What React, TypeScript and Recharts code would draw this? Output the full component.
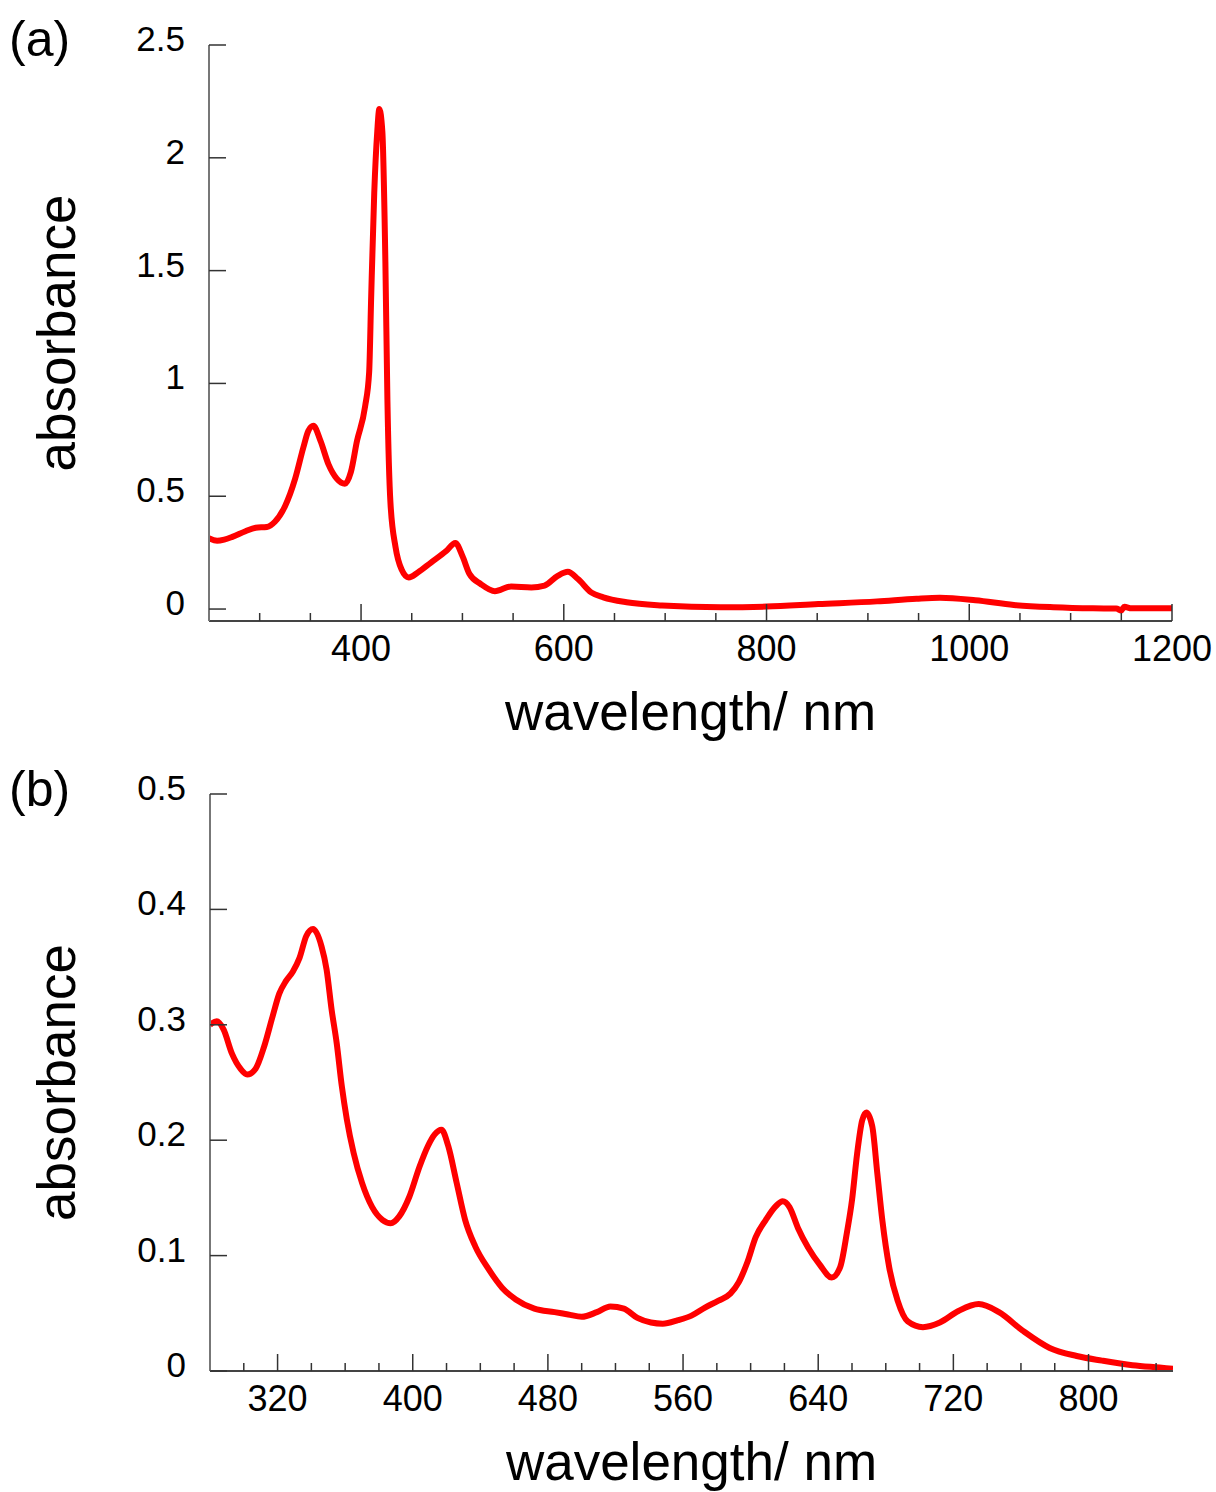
import { LineChart, Line, XAxis, YAxis, Label } from 'recharts';

// panel (a): full range spectrum
const wavelengthA = [
  250, 258, 265, 273, 286, 296, 307, 315, 325, 335, 343, 348, 353, 360, 368, 376, 384, 390, 396, 404,
  408, 410, 413, 416, 418, 421, 424, 426, 429, 434, 440, 447, 456, 469, 484, 493, 500, 507, 518, 532,
  548, 568, 581, 594, 604, 614, 627, 639, 662, 697, 755, 800, 851, 909, 948, 971, 1006, 1044, 1083, 1122,
  1145, 1150, 1153, 1160, 1200,
];
const absorbanceA = [
  0.314, 0.303, 0.308, 0.32, 0.345, 0.36, 0.364, 0.387, 0.456, 0.578, 0.715, 0.79, 0.812, 0.745, 0.64, 0.578, 0.555, 0.608, 0.745, 0.898,
  1.05, 1.386, 1.843, 2.117, 2.216, 2.117, 1.538, 0.928, 0.471, 0.275, 0.175, 0.14, 0.162, 0.206, 0.257, 0.293, 0.235, 0.155, 0.111, 0.079,
  0.1, 0.096, 0.104, 0.147, 0.165, 0.133, 0.074, 0.052, 0.03, 0.016, 0.008, 0.011, 0.022, 0.034, 0.046, 0.05, 0.039, 0.018, 0.008, 0.003,
  0.002, -0.006, 0.01, 0.003, 0.003,
];

// panel (b): 280-850 nm
const wavelengthB = [
  280, 284, 288, 293, 298, 302, 307, 312, 317, 321, 325, 329, 333, 337, 341, 346, 349, 352, 355, 358,
  361, 365, 370, 376, 382, 387, 392, 398, 404, 409, 413, 417, 421, 426, 431, 437, 445, 453, 461, 472,
  484, 492, 500, 509, 517, 525, 533, 541, 548, 557, 565, 573, 581, 588, 593, 598, 603, 609, 615, 619,
  623, 628, 634, 641, 648, 653, 657, 660, 663, 666, 668.5, 672, 675, 678, 682, 687, 693, 702, 712, 723,
  735, 747, 761, 777, 793, 808, 826, 842, 850,
];
const absorbanceB = [
  0.3, 0.303, 0.296, 0.275, 0.262, 0.257, 0.262, 0.281, 0.307, 0.327, 0.338, 0.346, 0.358, 0.377, 0.383, 0.368, 0.348, 0.313, 0.284, 0.247,
  0.218, 0.189, 0.163, 0.142, 0.131, 0.128, 0.134, 0.151, 0.177, 0.195, 0.205, 0.209, 0.195, 0.163, 0.131, 0.108, 0.088, 0.072, 0.062, 0.054,
  0.051, 0.049, 0.047, 0.051, 0.056, 0.054, 0.046, 0.042, 0.041, 0.044, 0.048, 0.055, 0.061, 0.067, 0.077, 0.094, 0.116, 0.131, 0.143, 0.147,
  0.142, 0.124, 0.107, 0.092, 0.081, 0.09, 0.12, 0.148, 0.188, 0.217, 0.224, 0.212, 0.171, 0.13, 0.09, 0.061, 0.043, 0.038, 0.042, 0.052,
  0.058, 0.051, 0.035, 0.02, 0.013, 0.009, 0.005, 0.003, 0.002,
];

const xTicksA = [300, 350, 400, 450, 500, 550, 600, 650, 700, 750, 800, 850, 900, 950, 1000, 1050, 1100, 1150, 1200];
const xMajorA = [400, 600, 800, 1000, 1200];
const yTicksA = [0, 0.5, 1, 1.5, 2, 2.5];

const xTicksB = [300, 320, 340, 360, 380, 400, 420, 440, 460, 480, 500, 520, 540, 560, 580, 600, 620, 640, 660, 680, 700, 720, 740, 760, 780, 800, 820, 840];
const xMajorB = [320, 400, 480, 560, 640, 720, 800];
const yTicksB = [0, 0.1, 0.2, 0.3, 0.4, 0.5];

const FONT = '"Liberation Sans", Arial, Helvetica, sans-serif';
const Y_AXIS_W = 60;
const X_AXIS_H = 30;

const zip = (xs: number[], ys: number[]) => xs.map((nm, i) => ({ nm, abs: ys[i] }));

const makeXTick = (majors: number[], axisY: number) => (props: any) => {
  const { x, payload } = props;
  const major = majors.includes(payload.value);
  return (
    <g>
      <line x1={x} x2={x} y1={axisY} y2={axisY - (major ? 17 : 8)} stroke="#333" strokeWidth={1.5} />
      {major && (
        <text x={x} y={axisY + 40} textAnchor="middle" fontSize={36} fontFamily={FONT} fill="#000">
          {payload.value}
        </text>
      )}
    </g>
  );
};

const makeYTick = (axisX: number) => (props: any) => {
  const { y, payload } = props;
  return (
    <g>
      <line x1={axisX} x2={axisX + 17} y1={y} y2={y} stroke="#333" strokeWidth={1.5} />
      <text x={axisX - 24} y={y + 6} textAnchor="end" fontSize={35} fontFamily={FONT} fill="#000">
        {payload.value}
      </text>
    </g>
  );
};

type PanelProps = {
  tag: string;
  data: { nm: number; abs: number }[];
  xDomain: [number, number];
  xTicks: number[];
  xMajor: number[];
  yDomain: [number, number];
  yTicks: number[];
  height: number;
  plot: { top: number; right: number; bottom: number; left: number };
};

function Panel({ tag, data, xDomain, xTicks, xMajor, yDomain, yTicks, height, plot }: PanelProps) {
  const midY = (plot.top + plot.bottom) / 2;
  const midX = (plot.left + plot.right) / 2;
  const margin = {
    top: plot.top,
    right: 1216 - plot.right,
    bottom: height - plot.bottom - X_AXIS_H,
    left: plot.left - Y_AXIS_W,
  };
  return (
    <LineChart width={1216} height={height} data={data} margin={margin}>
      <XAxis
        dataKey="nm"
        type="number"
        domain={xDomain}
        ticks={xTicks}
        interval={0}
        allowDataOverflow
        height={X_AXIS_H}
        tickLine={false}
        tick={makeXTick(xMajor, plot.bottom)}
        axisLine={{ stroke: '#444', strokeWidth: 2 }}
      >
        <Label
          content={() => (
            <text x={midX} y={plot.bottom + 109} textAnchor="middle" fontSize={53} fontFamily={FONT} fill="#000">
              wavelength/ nm
            </text>
          )}
        />
      </XAxis>
      <YAxis
        type="number"
        domain={yDomain}
        ticks={yTicks}
        interval={0}
        allowDataOverflow
        width={Y_AXIS_W}
        tickLine={false}
        tick={makeYTick(plot.left)}
        axisLine={{ stroke: '#777', strokeWidth: 2 }}
      >
        <Label
          content={() => (
            <g>
              <text
                x={75}
                y={midY}
                transform={`rotate(-90, 75, ${midY})`}
                textAnchor="middle"
                fontSize={53}
                fontFamily={FONT}
                fill="#000"
              >
                absorbance
              </text>
              <text x={9} y={56} fontSize={50} fontFamily={FONT} fill="#000">
                {tag}
              </text>
            </g>
          )}
        />
      </YAxis>
      <Line
        type="monotone"
        dataKey="abs"
        stroke="#ff0000"
        strokeWidth={6}
        dot={false}
        isAnimationActive={false}
      />
    </LineChart>
  );
}

export default function App() {
  return (
    <div style={{ position: 'absolute', left: 0, top: 0, width: 1216, height: 1492, background: '#fff' }}>
      <div style={{ position: 'absolute', left: 0, top: 0 }}>
        <Panel
          tag="(a)"
          data={zip(wavelengthA, absorbanceA)}
          xDomain={[250, 1200]}
          xTicks={xTicksA}
          xMajor={xMajorA}
          yDomain={[-0.053, 2.5]}
          yTicks={yTicksA}
          height={750}
          plot={{ top: 45, right: 1172, bottom: 621, left: 209 }}
        />
      </div>
      <div style={{ position: 'absolute', left: 0, top: 750 }}>
        <Panel
          tag="(b)"
          data={zip(wavelengthB, absorbanceB)}
          xDomain={[280, 850]}
          xTicks={xTicksB}
          xMajor={xMajorB}
          yDomain={[0, 0.5]}
          yTicks={yTicksB}
          height={742}
          plot={{ top: 44, right: 1173, bottom: 621, left: 210 }}
        />
      </div>
    </div>
  );
}
